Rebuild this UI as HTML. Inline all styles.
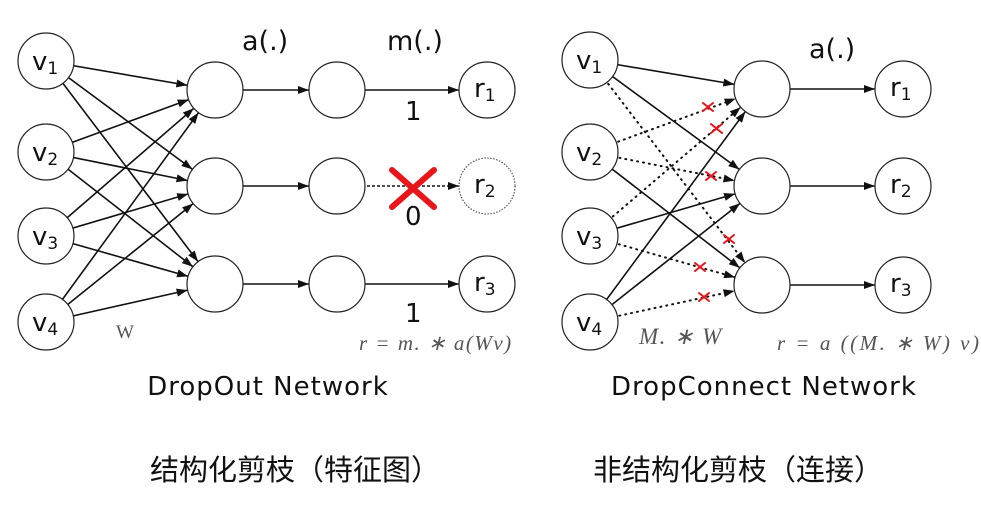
<!DOCTYPE html>
<html><head><meta charset="utf-8"><style>
html,body{margin:0;padding:0;background:#fff;}
svg{display:block;}
</style></head><body>
<svg width="981" height="506" viewBox="0 0 981 506" xmlns="http://www.w3.org/2000/svg">
<defs>
<marker id="a" markerUnits="userSpaceOnUse" viewBox="0 -5 40 10" markerWidth="40" markerHeight="10" refX="39" refY="0" orient="auto" overflow="visible">
<path d="M0,-4 L11,0 L0,4 z" fill="#111"/>
</marker>
</defs>
<g stroke="#111" stroke-width="1.6" fill="none" marker-end="url(#a)">
<line x1="46" y1="61" x2="215" y2="90"/><line x1="46" y1="61" x2="215" y2="186"/><line x1="46" y1="61" x2="215" y2="284"/>
<line x1="46" y1="152" x2="215" y2="90"/><line x1="46" y1="152" x2="215" y2="186"/><line x1="46" y1="152" x2="215" y2="284"/>
<line x1="46" y1="236" x2="215" y2="90"/><line x1="46" y1="236" x2="215" y2="186"/><line x1="46" y1="236" x2="215" y2="284"/>
<line x1="46" y1="322" x2="215" y2="90"/><line x1="46" y1="322" x2="215" y2="186"/><line x1="46" y1="322" x2="215" y2="284"/>
<line x1="215" y1="90" x2="337" y2="90"/><line x1="215" y1="186" x2="337" y2="186"/><line x1="215" y1="284" x2="337" y2="284"/>
<line x1="337" y1="90" x2="487" y2="90"/><line x1="337" y1="284" x2="487" y2="284"/>
<line x1="337" y1="186" x2="487" y2="186" stroke-dasharray="3,2"/>
<line x1="590" y1="60" x2="762" y2="89"/><line x1="590" y1="60" x2="762" y2="186"/>
<line x1="590" y1="152" x2="762" y2="285"/><line x1="590" y1="236" x2="762" y2="186"/>
<line x1="590" y1="322" x2="762" y2="89"/><line x1="590" y1="322" x2="762" y2="186"/>
<g stroke-dasharray="1,5" stroke-linecap="round" stroke-width="2">
<line x1="590" y1="60" x2="762" y2="285"/><line x1="590" y1="152" x2="762" y2="89"/><line x1="590" y1="152" x2="762" y2="186"/>
<line x1="590" y1="236" x2="762" y2="89"/><line x1="590" y1="236" x2="762" y2="285"/><line x1="590" y1="322" x2="762" y2="285"/>
</g>
<line x1="762" y1="89" x2="903" y2="89"/><line x1="762" y1="186" x2="903" y2="186"/><line x1="762" y1="285" x2="903" y2="285"/>
</g>
<g fill="#fff" stroke="#222" stroke-width="1.2">
<circle cx="46" cy="61" r="28"/><circle cx="46" cy="152" r="28"/><circle cx="46" cy="236" r="28"/><circle cx="46" cy="322" r="28"/>
<circle cx="215" cy="90" r="28"/><circle cx="215" cy="186" r="28"/><circle cx="215" cy="284" r="28"/>
<circle cx="337" cy="90" r="28"/><circle cx="337" cy="186" r="28"/><circle cx="337" cy="284" r="28"/>
<circle cx="487" cy="90" r="28"/><circle cx="487" cy="284" r="28"/>
<circle cx="487" cy="186" r="28" stroke-dasharray="1.5,1.5" stroke="#555"/>
<circle cx="590" cy="60" r="28"/><circle cx="590" cy="152" r="28"/><circle cx="590" cy="236" r="28"/><circle cx="590" cy="322" r="28"/>
<circle cx="762" cy="89" r="28"/><circle cx="762" cy="186" r="28"/><circle cx="762" cy="285" r="28"/>
<circle cx="903" cy="89" r="28"/><circle cx="903" cy="186" r="28"/><circle cx="903" cy="285" r="28"/>
</g>
<g font-family="DejaVu Sans, Liberation Sans, sans-serif" fill="#111">
<g font-size="26">
<text x="32" y="70">v<tspan font-size="17" dy="4">1</tspan></text>
<text x="32" y="161">v<tspan font-size="17" dy="4">2</tspan></text>
<text x="32" y="245">v<tspan font-size="17" dy="4">3</tspan></text>
<text x="32" y="331">v<tspan font-size="17" dy="4">4</tspan></text>
<text x="576" y="69">v<tspan font-size="17" dy="4">1</tspan></text>
<text x="576" y="161">v<tspan font-size="17" dy="4">2</tspan></text>
<text x="576" y="245">v<tspan font-size="17" dy="4">3</tspan></text>
<text x="576" y="331">v<tspan font-size="17" dy="4">4</tspan></text>
<text x="474" y="97">r<tspan font-size="17" dy="4">1</tspan></text>
<text x="474" y="193">r<tspan font-size="17" dy="4">2</tspan></text>
<text x="474" y="291">r<tspan font-size="17" dy="4">3</tspan></text>
<text x="890" y="96">r<tspan font-size="17" dy="4">1</tspan></text>
<text x="890" y="193">r<tspan font-size="17" dy="4">2</tspan></text>
<text x="890" y="292">r<tspan font-size="17" dy="4">3</tspan></text>
<text x="242" y="50" font-size="27">a(.)</text>
<text x="387" y="50" font-size="27">m(.)</text>
<text x="809" y="58" font-size="27">a(.)</text>
<text x="405" y="120">1</text>
<text x="405" y="225">0</text>
<text x="405" y="322">1</text>
</g>
<g font-size="26" text-anchor="middle" letter-spacing="1">
<text x="268" y="395">DropOut Network</text>
<text x="764" y="395">DropConnect Network</text>
</g>
</g>
<g font-family="Liberation Serif, serif" fill="#555" font-style="italic" font-size="21">
<text x="116" y="338" font-style="normal" font-size="19">W</text>
<text x="359" y="350" letter-spacing="1.5">r = m. ∗ a(Wv)</text>
<text x="639" y="344" font-size="23" letter-spacing="1.5">M. ∗ W</text>
<text x="777" y="350" letter-spacing="2.5">r = a ((M. ∗ W) v)</text>
</g>
<g stroke="#e8151b" stroke-linecap="round">
<g stroke-width="6"><line x1="392" y1="170" x2="434" y2="207"/><line x1="434" y1="170" x2="392" y2="207"/></g>
<g stroke-width="2">
<path d="M703,103 l10,8 M713,103 l-10,8"/>
<path d="M711,124 l11,9 M722,124 l-11,9"/>
<path d="M706,172 l10,8 M716,172 l-10,8"/>
<path d="M724,235 l10,8 M734,235 l-10,8"/>
<path d="M695,263 l10,8 M705,263 l-10,8"/>
<path d="M699,293 l10,8 M709,293 l-10,8"/>
</g>
</g>
<g font-family="Liberation Sans, Noto Sans CJK SC, sans-serif" font-size="29" fill="#111" text-anchor="middle">
<text x="295" y="480">结构化剪枝（特征图）</text>
<text x="738" y="480">非结构化剪枝（连接）</text>
</g>
</svg>
</body></html>
